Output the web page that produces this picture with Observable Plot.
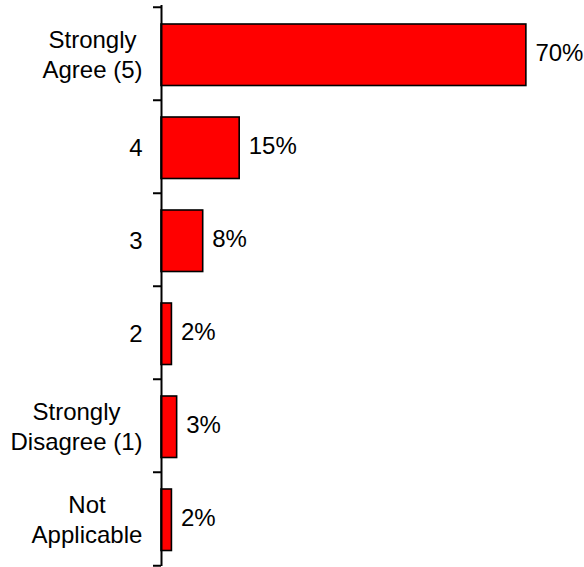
<!DOCTYPE html>
<html>
<head>
<meta charset="utf-8">
<script src="https://cdn.jsdelivr.net/npm/d3@7"></script>
<script src="https://cdn.jsdelivr.net/npm/@observablehq/plot@0.6"></script>
<style>
  html, body { margin: 0; padding: 0; background: white; }
</style>
</head>
<body>
<div id="chart"></div>
<script>
const categories = ["Strongly\nAgree (5)", "4", "3", "2", "Strongly\nDisagree (1)", "Not\nApplicable"];
const values = [70, 15, 8, 2, 3, 2];
const data = categories.map((c, i) => ({cat: c, value: values[i]}));

const W = 584, H = 567, mTop = 5, mBottom = 1;
const step = (H - mTop - mBottom) / categories.length;

const chart = Plot.plot({
  width: W,
  height: H,
  marginLeft: 161,
  marginRight: 6,
  marginTop: mTop,
  marginBottom: mBottom,
  style: {fontFamily: "'Liberation Sans', Arial, sans-serif", fontSize: "24px", color: "black", background: "white", overflow: "visible"},
  x: {domain: [0, 80], axis: null},
  y: {domain: categories, padding: 0, label: null},
  marks: [
    Plot.barX(data, {x: "value", y: "cat", fill: "#ff0000", stroke: "black", strokeWidth: 1.6, insetTop: 17, insetBottom: 14.5}),
    Plot.text(data, {x: "value", y: "cat", text: d => d.value + "%", textAnchor: "start", dx: 9, dy: -1, fontSize: 24, fill: "black"}),
    Plot.ruleX([0], {stroke: "black", strokeWidth: 2}),
    Plot.axisY({tickSize: 0, tickPadding: 19, fontSize: 24, lineHeight: 1.25, dy: -1, textAnchor: "end", label: null}),
    Plot.axisY({tickSize: 8, tickFormat: () => "", dy: -step / 2, strokeWidth: 2, label: null}),
    Plot.axisY({ticks: [categories[categories.length - 1]], tickSize: 8, tickFormat: () => "", dy: step / 2, strokeWidth: 2, label: null})
  ]
});
document.getElementById("chart").append(chart);

// center multi-line labels within their right-aligned block
chart.querySelectorAll('g[aria-label="y-axis tick label"] text').forEach(t => {
  if (!t.textContent) return;
  const w = t.getBBox().width;
  t.setAttribute("text-anchor", "middle");
  const tr = t.getAttribute("transform") || "";
  t.setAttribute("transform", tr + ` translate(${-w / 2},0)`);
});
</script>
</body>
</html>
